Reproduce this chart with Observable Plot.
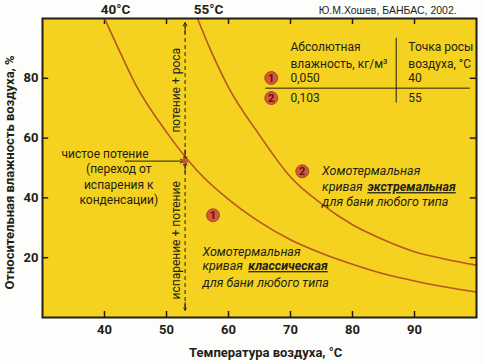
<!DOCTYPE html>
<html><head><meta charset="utf-8">
<script src="https://cdn.jsdelivr.net/npm/d3@7"></script>
<script src="https://cdn.jsdelivr.net/npm/@observablehq/plot@0.6"></script>
<style>body{margin:0;background:#fdfdfb;} svg{display:block;}</style>
</head><body><div id="chart"></div>
<script>
// Curve 1: absolute humidity 0.050 kg/m3, dew point 40 °C
const temps1 = [40, 42, 45, 50, 55, 60, 65, 70, 75, 80, 85, 90, 95, 100];
const rh1    = [100, 91, 78, 62, 49, 39.5, 32, 26, 21.5, 17.8, 14.6, 12.2, 10.2, 8.5];
// Curve 2: absolute humidity 0.103 kg/m3, dew point 55 °C
const temps2 = [55, 57, 60, 65, 70, 75, 80, 85, 90, 95, 100];
const rh2    = [100, 90, 77, 61, 47, 38, 31, 26, 22, 19.5, 17.5];

const xTicks = [40, 50, 60, 70, 80, 90];
const yTicks = [20, 40, 60, 80];
const curveIds = ["1", "2"];
const absHumidity = ["0,050", "0,103"];
const dewPoints = ["40", "55"];
const dewLabels = ["40°C", "55°C"];
const crossT = 53;      // dashed line temperature
const crossRH = 52.3;   // intersection with curve 1

const yellow = "#f4d21f", dark = "#231e16", curveColor = "#b8561f";
const badgeFill = "#d4573b", badgeStroke = "#9a3a22", badgeText = "#5e150c";
const font = "Roboto, 'Noto Sans', sans-serif";

const c1 = temps1.map((t, i) => ({t, rh: rh1[i]}));
const c2 = temps2.map((t, i) => ({t, rh: rh2[i]}));

const tableRows = curveIds.map((id, i) => ({id, ah: absHumidity[i], dp: dewPoints[i], y: [80.1, 73.4][i]}));
const headers = [
  {x: 70, y: 90.4, text: "Абсолютная"},
  {x: 70, y: 84.8, text: "влажность, кг/м³"},
  {x: 89, y: 90.4, text: "Точка росы"},
  {x: 89, y: 84.8, text: "воздуха, °C"}
];
const curve2Text = [
  {x: 75.1, y: 48.9, text: "Хомотермальная"},
  {x: 75.1, y: 43.6, text: "кривая"},
  {x: 75.1, y: 38.6, text: "для бани любого типа"}
];
const curve1Text = [
  {x: 55.8, y: 21.9, text: "Хомотермальная"},
  {x: 55.8, y: 17.2, text: "кривая"},
  {x: 55.8, y: 11.7, text: "для бани любого типа"}
];
const boldWords = [
  {x: 82.4, y: 43.6, text: "экстремальная"},
  {x: 63.2, y: 17.2, text: "классическая"}
];
const leftNote = [
  {x: 42.3, y: 49.5, text: "(переход от"},
  {x: 42.3, y: 44.3, text: "испарения к"},
  {x: 42.3, y: 39.1, text: "конденсации)"}
];
const badges = [
  {id: "2", x: 71.9, y: 48.9},
  {id: "1", x: 57.5, y: 34.2},
  ...tableRows.map(r => ({id: r.id, x: 66.9, y: r.y}))
];

const chart = Plot.plot({
  width: 485, height: 364,
  marginLeft: 42, marginRight: 9, marginTop: 18, marginBottom: 47,
  x: {domain: [30, 100]},
  y: {domain: [0, 100]},
  style: {background: "#fdfdfb", fontFamily: font, color: dark, overflow: "visible"},
  marks: [
    Plot.frame({fill: yellow}),
    // inward ticks
    Plot.ruleX(xTicks, {x: d => d, y1: 0, y2: 2, stroke: dark, strokeWidth: 1.5}),
    Plot.ruleX([40, ...xTicks.slice(1)], {x: d => d, y1: 98, y2: 100, stroke: dark, strokeWidth: 1.5}),
    Plot.ruleY(yTicks, {y: d => d, x1: 30, x2: 31, stroke: dark, strokeWidth: 1.5}),
    Plot.ruleY(yTicks, {y: d => d, x1: 99, x2: 100, stroke: dark, strokeWidth: 1.5}),
    Plot.axisX({ticks: xTicks, tickSize: 0, tickPadding: 7, fontSize: 13, fontWeight: "bold", label: null}),
    Plot.axisY({ticks: yTicks, tickSize: 0, tickPadding: 4, fontSize: 13, fontWeight: "bold", label: null}),
    // curves
    Plot.line(c1, {x: "t", y: "rh", curve: "monotone-x", stroke: curveColor, strokeWidth: 1.6}),
    Plot.line(c2, {x: "t", y: "rh", curve: "monotone-x", stroke: curveColor, strokeWidth: 1.6}),
    // dashed line with arrows
    Plot.ruleX([crossT], {y1: 3, y2: 97.5, stroke: dark, strokeWidth: 1, strokeDasharray: "4,3"}),
    Plot.arrow([0], {x1: crossT, x2: crossT, y1: 95, y2: 98.6, stroke: dark, strokeWidth: 1, headLength: 6}),
    Plot.arrow([0], {x1: crossT, x2: crossT, y1: 5, y2: 2.4, stroke: dark, strokeWidth: 1, headLength: 6}),
    Plot.arrow([0], {x1: crossT, x2: crossT, y1: 56, y2: crossRH + 0.4, stroke: dark, strokeWidth: 1, headLength: 5}),
    Plot.arrow([0], {x1: crossT, x2: crossT, y1: 48.5, y2: crossRH - 0.4, stroke: dark, strokeWidth: 1, headLength: 5}),
    Plot.arrow([0], {x1: 43.4, x2: crossT - 0.2, y1: crossRH, y2: crossRH, stroke: dark, strokeWidth: 1, headLength: 6}),
    Plot.dot([0], {x: crossT, y: crossRH, r: 3, fill: "#c9503a"}),
    Plot.text(["потение + роса"], {x: 51.5, y: 76, text: d => d, rotate: -90, fontSize: 12, fill: dark}),
    Plot.text(["испарение + потение"], {x: 51.5, y: 25.8, text: d => d, rotate: -90, fontSize: 12, fill: dark}),
    // left note
    Plot.text(["чистое потение"], {x: 47.1, y: 54.6, text: d => d, textAnchor: "end", fontSize: 12, fill: dark}),
    Plot.text(leftNote, {x: "x", y: "y", text: "text", fontSize: 12, fill: dark}),
    // table
    Plot.ruleY([76.7], {x1: 66, x2: 99, stroke: dark, strokeWidth: 1}),
    Plot.ruleX([87.05], {y1: 71.7, y2: 93.4, stroke: dark, strokeWidth: 1}),
    Plot.text(headers, {x: "x", y: "y", text: "text", textAnchor: "start", fontSize: 12, fill: dark}),
    Plot.text(tableRows, {x: 70, y: "y", text: "ah", textAnchor: "start", fontSize: 12, fill: dark}),
    Plot.text(tableRows, {x: 89, y: "y", text: "dp", textAnchor: "start", fontSize: 12, fill: dark}),
    // curve labels
    Plot.text(curve2Text, {x: "x", y: "y", text: "text", textAnchor: "start", fontSize: 12.5, fontStyle: "italic", fill: dark}),
    Plot.text(curve1Text, {x: "x", y: "y", text: "text", textAnchor: "start", fontSize: 12.5, fontStyle: "italic", fill: dark}),
    Plot.text(boldWords, {x: "x", y: "y", text: "text", textAnchor: "start", fontSize: 12.5, fontStyle: "italic", fontWeight: "bold", fill: dark}),
    Plot.dot(badges, {x: "x", y: "y", r: 6.5, fill: badgeFill, stroke: badgeStroke, strokeWidth: 0.8}),
    Plot.text(badges, {x: "x", y: "y", text: "id", fontSize: 11, fontWeight: "bold", fill: badgeText}),
    // frame border on top
    Plot.frame({stroke: dark, strokeWidth: 2}),
    // outside texts
    Plot.text(dewLabels, {x: [41.8, 56.8], y: 103, text: d => d, fontSize: 13.5, fontWeight: "bold", fill: dark}),
    Plot.text(["Ю.М.Хошев, БАНБАС, 2002."], {x: 96.8, y: 102.8, text: d => d, textAnchor: "end", fontSize: 10.5, fontFamily: "'Liberation Sans', Arial, sans-serif", fill: dark}),
    Plot.text(["Температура воздуха, °C"], {x: 66, y: -11.7, text: d => d, fontSize: 13, fontWeight: "bold", fill: dark}),
    Plot.text(["Относительная влажность воздуха, %"], {x: 24.8, y: 48.5, text: d => d, rotate: -90, fontSize: 13, fontWeight: "bold", fill: dark})
  ]
});
const underlined = ["экстремальная", "классическая"];
chart.querySelectorAll("text").forEach(t => {
  if (underlined.includes(t.textContent)) t.setAttribute("text-decoration", "underline");
});
document.getElementById("chart").appendChild(chart);
</script>
</body></html>
